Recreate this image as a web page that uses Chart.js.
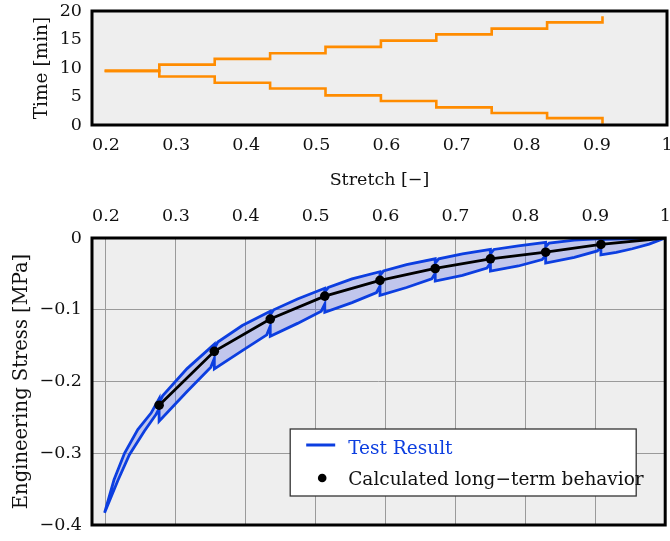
<!DOCTYPE html>
<html>
<head>
<meta charset="utf-8">
<script src="https://cdn.jsdelivr.net/npm/chart.js@4.4.1/dist/chart.umd.min.js"></script>
<style>
  html, body { margin: 0; padding: 0; background: #ffffff; }
  #wrap { position: relative; width: 670px; height: 541px; overflow: hidden; }
  #top { position: absolute; left: 0; top: 0; }
  #bottom { position: absolute; left: 0; top: 195px; }
</style>
</head>
<body>
<div id="wrap">
  <canvas id="top" width="670" height="200"></canvas>
  <canvas id="bottom" width="670" height="346"></canvas>
</div>
<script>
// ---------- tick labels ----------
const stretchTicks = [0.2, 0.3, 0.4, 0.5, 0.6, 0.7, 0.8, 0.9, 1.0];
const timeTicks = [0, 5, 10, 15, 20];
const stressTicks = [0, -0.1, -0.2, -0.3, -0.4];

// ---------- top panel: hold times (value reached at each hold stretch) ----------
const holdStretch = [0.198, 0.276, 0.355, 0.434, 0.513, 0.592, 0.671, 0.750, 0.829, 0.908];
const timeUpper   = [9.5, 10.6, 11.6, 12.6, 13.7, 14.8, 15.9, 16.9, 18.0, 19.1];
const timeLower   = [9.5, 8.5, 7.4, 6.4, 5.2, 4.2, 3.1, 2.1, 1.2, 0.2];

// ---------- bottom panel: test result (loading path, stretch decreasing) ----------
const loadStretch = [1.000, 0.977, 0.953, 0.930, 0.908, 0.908, 0.903, 0.870, 0.829, 0.829,
                     0.824, 0.790, 0.750, 0.750, 0.745, 0.710, 0.671, 0.671, 0.666, 0.630,
                     0.592, 0.592, 0.587, 0.552, 0.513, 0.513, 0.508, 0.474, 0.435, 0.435,
                     0.430, 0.395, 0.355, 0.355, 0.350, 0.316, 0.276, 0.276, 0.2715, 0.255,
                     0.2335, 0.217, 0.198];
const loadStress  = [0.000, -0.0086, -0.015, -0.020, -0.0235, -0.012, -0.018, -0.027, -0.035, -0.024,
                     -0.030, -0.039, -0.046, -0.035, -0.042, -0.052, -0.060, -0.049, -0.057, -0.069,
                     -0.080, -0.067, -0.076, -0.090, -0.1035, -0.092, -0.102, -0.119, -0.137, -0.123,
                     -0.135, -0.157, -0.1825, -0.168, -0.180, -0.214, -0.2555, -0.238, -0.246, -0.269,
                     -0.302, -0.338, -0.383];
// ---------- test result (unloading path, stretch increasing) ----------
const unloadStretch = [0.198, 0.2115, 0.2265, 0.2455, 0.2645, 0.276, 0.276, 0.281, 0.316, 0.355,
                       0.355, 0.360, 0.395, 0.435, 0.435, 0.440, 0.474, 0.513, 0.513, 0.518,
                       0.552, 0.592, 0.592, 0.597, 0.630, 0.671, 0.671, 0.676, 0.710, 0.750,
                       0.750, 0.755, 0.790, 0.829, 0.829, 0.834, 0.870, 0.908, 0.908, 0.913,
                       0.955, 1.000];
const unloadStress  = [-0.383, -0.337, -0.300, -0.267, -0.244, -0.224, -0.230, -0.220, -0.182, -0.148,
                       -0.154, -0.145, -0.122, -0.102, -0.107, -0.100, -0.085, -0.070, -0.075, -0.069,
                       -0.057, -0.047, -0.052, -0.046, -0.037, -0.029, -0.035, -0.029, -0.022, -0.016,
                       -0.022, -0.016, -0.011, -0.006, -0.012, -0.007, -0.003, -0.001, -0.004, -0.002,
                       -0.001, 0.000];

// ---------- calculated long-term behaviour ----------
const calcStretch = [0.276, 0.355, 0.435, 0.513, 0.592, 0.671, 0.750, 0.829, 0.908, 1.000];
const calcStress  = [-0.233, -0.158, -0.113, -0.081, -0.059, -0.0425, -0.029, -0.0198, -0.009, 0.000];

const seriesLabels = ['Test Result', 'Calculated long\u2212term behavior'];

// ---------- styling ----------
const FONT = 'DejaVu Serif';
const BLUE = '#0c3ee0';
const ORANGE = '#ff8c00';

const xy = (xs, ys) => xs.map((x, i) => ({x: x, y: ys[i]}));
const setTicks = (vals) => (scale) => { scale.ticks = vals.map(v => ({value: v})); };
const fmtStretch = (v) => String(Math.round(v * 10) / 10);
const fmtStress = (v) => (Math.abs(v) < 1e-9 ? '0' : (v < 0 ? '\u2212' : '') + String(Math.round(Math.abs(v) * 10) / 10));
const fitX = (h) => (s) => { s.height = h; s.paddingLeft = 0; s.paddingRight = 0; s.paddingTop = 0; s.paddingBottom = 0; };
const fitY = (w) => (s) => { s.width = w; s.paddingLeft = 0; s.paddingRight = 0; s.paddingTop = 0; s.paddingBottom = 0; };

const areaPlugin = {
  id: 'area',
  beforeDraw(chart) {
    const a = chart.chartArea, c = chart.ctx;
    c.save(); c.fillStyle = '#eeeeee';
    c.fillRect(a.left, a.top, a.right - a.left, a.bottom - a.top);
    c.restore();
  },
  afterDraw(chart) {
    const a = chart.chartArea, c = chart.ctx;
    c.save(); c.strokeStyle = '#000'; c.lineWidth = 3;
    c.strokeRect(a.left, a.top, a.right - a.left, a.bottom - a.top);
    c.restore();
  }
};

const legendPlugin = {
  id: 'customLegend',
  afterDraw(chart) {
    const a = chart.chartArea, c = chart.ctx;
    const right = a.right - 29, bottom = a.bottom - 29;
    const left = right - 346, top = bottom - 67;
    c.save();
    c.fillStyle = '#ffffff';
    c.fillRect(left, top, right - left, bottom - top);
    c.strokeStyle = '#333'; c.lineWidth = 1.3;
    c.strokeRect(left, top, right - left, bottom - top);
    c.strokeStyle = BLUE; c.lineWidth = 3;
    c.beginPath(); c.moveTo(left + 16, top + 16); c.lineTo(left + 45, top + 16); c.stroke();
    c.fillStyle = '#000';
    c.beginPath(); c.arc(left + 32, top + 49, 4.3, 0, Math.PI * 2); c.fill();
    c.font = '18.5px "' + FONT + '"';
    c.textBaseline = 'middle'; c.textAlign = 'left';
    c.fillStyle = BLUE; c.fillText(seriesLabels[0], left + 58, top + 20);
    c.fillStyle = '#111'; c.fillText(seriesLabels[1], left + 58, top + 51);
    c.restore();
  }
};

Chart.defaults.font.family = FONT;
Chart.defaults.color = '#111';

// ---------- top chart ----------
new Chart(document.getElementById('top'), {
  type: 'scatter',
  data: {
    datasets: [
      { label: 'Time upper', data: xy(holdStretch, timeUpper), showLine: true, stepped: 'before',
        borderColor: ORANGE, borderWidth: 2.6, pointRadius: 0, fill: false },
      { label: 'Time lower', data: xy(holdStretch, timeLower), showLine: true, stepped: 'before',
        borderColor: ORANGE, borderWidth: 2.6, pointRadius: 0, fill: false }
    ]
  },
  options: {
    responsive: false, animation: false, devicePixelRatio: 1,
    layout: { padding: { left: 0, right: 3, top: 11, bottom: 0 } },
    plugins: { legend: { display: false }, tooltip: { enabled: false } },
    scales: {
      x: {
        type: 'linear', position: 'bottom', min: 0.18, max: 1.0,
        grid: { display: false, drawTicks: false }, border: { display: false },
        afterBuildTicks: setTicks(stretchTicks),
        afterFit: fitX(75),
        ticks: { font: { size: 17.5 }, padding: 10, maxRotation: 0, autoSkip: false, callback: fmtStretch },
        title: { display: true, text: 'Stretch [\u2212]', font: { size: 17.5 }, padding: { top: 0, bottom: 9 } }
      },
      y: {
        type: 'linear', min: 0, max: 20,
        grid: { display: false, drawTicks: false }, border: { display: false },
        afterBuildTicks: setTicks(timeTicks),
        afterFit: fitY(92),
        ticks: { font: { size: 17.5 }, padding: 10, autoSkip: false },
        title: { display: true, text: 'Time [min]', font: { size: 18.5 }, padding: { top: 31, bottom: 0 } }
      }
    }
  },
  plugins: [areaPlugin]
});

// ---------- bottom chart ----------
new Chart(document.getElementById('bottom'), {
  type: 'scatter',
  data: {
    datasets: [
      { label: seriesLabels[1], data: xy(calcStretch, calcStress), showLine: true,
        borderColor: '#000', borderWidth: 2.8, backgroundColor: '#000',
        pointRadius: calcStretch.map((x, i) => (i === calcStretch.length - 1 ? 0 : 4.8)),
        pointBorderWidth: 0, fill: false, order: 0 },
      { label: seriesLabels[0],
        data: xy(loadStretch, loadStress).concat(xy(unloadStretch, unloadStress)),
        showLine: true, borderColor: BLUE, borderWidth: 2.8, pointRadius: 0,
        backgroundColor: 'rgba(60,80,230,0.25)', fill: 'shape', order: 1 }
    ]
  },
  options: {
    responsive: false, animation: false, devicePixelRatio: 1,
    layout: { padding: { left: 0, right: 3, top: 0, bottom: 16 } },
    plugins: { legend: { display: false }, tooltip: { enabled: false } },
    scales: {
      x: {
        type: 'linear', position: 'top', min: 0.18, max: 1.0,
        grid: { color: '#9a9a9a', lineWidth: 1, drawTicks: false }, border: { display: false },
        afterBuildTicks: setTicks(stretchTicks),
        afterFit: fitX(43),
        ticks: { font: { size: 17.5 }, padding: 11, maxRotation: 0, autoSkip: false, callback: fmtStretch }
      },
      y: {
        type: 'linear', min: -0.4, max: 0,
        grid: { color: '#9a9a9a', lineWidth: 1, drawTicks: false }, border: { display: false },
        afterBuildTicks: setTicks(stressTicks),
        afterFit: fitY(92),
        ticks: { font: { size: 17.5 }, padding: 10, autoSkip: false, callback: fmtStress },
        title: { display: true, text: 'Engineering Stress [MPa]', font: { size: 19.5 }, padding: { top: 10, bottom: 0 } }
      }
    }
  },
  plugins: [areaPlugin, legendPlugin]
});
</script>
</body>
</html>
